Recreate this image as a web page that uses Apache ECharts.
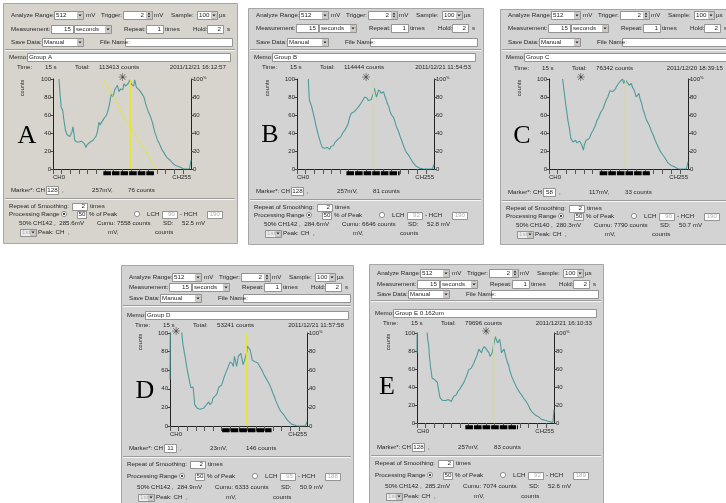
<!DOCTYPE html>
<html><head><meta charset="utf-8">
<script src="https://cdn.jsdelivr.net/npm/echarts@6/dist/echarts.min.js"></script>
<style>html,body{margin:0;padding:0;background:#fff}#c{width:726px;height:503px}</style>
</head><body><div id="c"></div><script>
// ---------------- data ----------------
const panelLetters = ['A','B','C','D','E'];
const memos = ['Group A','Group B','Group C','Group D','Group E 0.162um'];
const totals = [113413,114444,76342,53241,79696];
const dates = ['2011/12/21 16:12:57','2011/12/21 11:54:53','2011/12/20 18:39:15','2011/12/21 11:57:58','2011/12/21 16:10:33'];
const markerCH = [128,128,58,11,128];
const markerMV = [257,257,117,23,257];
const markerCounts = [76,81,33,146,83];
const halfCH = [142,142,140,142,142];
const halfMV = ['285.6','284.6','280.3','284.9','285.2'];
const cumuCounts = [7558,6646,7790,6333,7074];
const sdMV = ['52.5','52.8','50.7','50.9','52.6'];
const lchValues = [90,92,90,95,92];
const hchValues = [190,190,190,188,189];
const rangeStart = [93,92,93,97,90];
const rangeEnd = [188,191,185,189,188];
const analyzeRange = 512, triggerMV = 2, sampleUS = 100, measureTime = 15, repeatTimes = 1, holdSec = 2, smoothing = 2, percentPeak = 50;
const yTicks = [0,20,40,60,80,100];
const xTicks = [0,16,32,48,64,80,96,112,128,144,160,176,192,208,224,240];
const chLabels = [0,255];

const curveA = [[11,100],[13,84],[15,69],[18,65],[20,55],[23,43],[26,38],[28,37],[31,36],[33,36],[35,41],[37,47],[39,38],[40,32],[44,30],[49,30],[53,31],[56,32],[58,28],[61,24],[63,27],[65,28],[69,30],[74,32],[77,34],[80,37],[83,44],[85,52],[87,49],[90,50],[94,56],[97,58],[99,60],[102,66],[104,71],[106,78],[108,84],[111,80],[114,88],[116,86],[119,93],[122,86],[125,89],[127,91],[129,88],[131,95],[134,92],[136,91],[139,95],[142,99],[145,94],[147,95],[149,92],[151,99],[154,91],[157,90],[159,88],[162,86],[164,84],[166,82],[168,80],[171,73],[173,69],[176,64],[179,60],[182,55],[184,51],[186,46],[188,41],[191,36],[193,32],[196,29],[198,26],[201,22],[204,19],[207,16],[210,13],[213,11],[216,10],[219,8],[222,6],[226,4],[231,3],[235,2],[238,1],[242,0],[252,0],[255,10]];
const cumulativeA = [[93,100],[103,88],[114,78],[127,62],[142,47],[160,30],[176,15],[188,0]];
const curveB = [[21,100],[22,88],[23,77],[25,73],[27,70],[29,68],[31,60],[33,55],[35,49],[37,44],[40,37],[42,33],[44,29],[47,24],[49,24],[51,23],[53,25],[56,24],[58,23],[61,22],[63,25],[66,27],[68,26],[70,29],[73,30],[76,33],[79,34],[82,36],[85,40],[87,42],[90,44],[92,45],[95,50],[97,55],[99,59],[101,62],[104,62],[107,64],[110,65],[113,68],[116,69],[118,72],[120,73],[123,77],[126,80],[128,78],[130,79],[133,76],[135,75],[138,77],[140,77],[142,84],[144,90],[146,84],[148,80],[150,84],[152,88],[155,86],[157,84],[159,86],[161,86],[163,82],[166,77],[168,73],[171,69],[173,64],[176,60],[178,58],[180,57],[183,51],[185,47],[188,43],[190,40],[192,36],[194,33],[197,28],[200,23],[203,19],[207,16],[210,13],[213,10],[216,7],[219,5],[222,3],[225,2],[228,1],[231,1],[235,0],[252,0],[255,5]];
const curveC = [[25,100],[27,90],[29,80],[31,70],[32,66],[34,57],[35,53],[37,47],[38,43],[40,34],[42,33],[44,30],[46,31],[49,32],[51,29],[54,29],[56,31],[58,32],[60,27],[63,21],[65,27],[68,32],[71,31],[74,34],[76,36],[78,40],[81,43],[84,47],[86,50],[88,54],[91,57],[94,62],[97,64],[99,67],[102,72],[105,77],[108,80],[110,84],[112,87],[115,88],[117,86],[119,84],[122,89],[124,92],[127,94],[130,97],[133,98],[135,100],[137,95],[138,95],[140,99],[142,99],[144,96],[147,93],[149,94],[151,95],[153,91],[156,88],[158,84],[160,80],[163,82],[165,84],[167,78],[170,73],[172,67],[175,62],[177,58],[179,54],[182,51],[185,47],[188,42],[191,38],[194,33],[197,29],[200,25],[203,21],[206,18],[209,16],[212,13],[215,10],[218,7],[221,6],[224,4],[228,3],[231,1],[234,1],[238,0],[252,0],[255,8]];
const curveD = [[0,50],[1,160],[20,110],[22,100],[24,88],[25,86],[27,78],[28,75],[30,68],[31,64],[33,58],[34,55],[36,49],[37,46],[39,41],[40,39],[42,40],[43,42],[45,30],[46,23],[49,21],[51,19],[54,18],[56,18],[59,18],[62,19],[65,21],[68,23],[70,24],[72,26],[74,23],[76,21],[78,25],[80,30],[83,32],[87,34],[89,38],[91,42],[94,43],[96,44],[99,49],[101,53],[103,56],[105,59],[108,63],[110,66],[112,69],[115,71],[116,67],[118,64],[120,75],[122,70],[124,64],[126,70],[127,75],[130,77],[132,78],[134,72],[136,66],[138,69],[141,71],[143,80],[144,86],[146,84],[149,82],[151,77],[153,71],[155,70],[158,69],[161,68],[163,68],[166,65],[169,62],[172,59],[175,55],[178,52],[181,50],[184,46],[188,41],[191,36],[194,32],[197,27],[200,23],[203,19],[206,16],[209,14],[212,12],[215,9],[219,6],[222,4],[226,2],[229,1],[232,1],[236,0],[252,0],[255,5]];
const curveE = [[0,78],[1,150],[17,110],[19,100],[20,93],[22,85],[23,75],[25,63],[27,55],[28,50],[30,49],[33,48],[35,50],[36,50],[38,45],[39,41],[41,34],[42,30],[44,27],[45,26],[48,25],[51,24],[54,25],[56,27],[58,26],[61,25],[64,24],[66,27],[69,30],[71,30],[73,31],[76,35],[78,37],[80,38],[83,41],[85,43],[88,46],[90,49],[92,52],[94,55],[96,59],[99,60],[101,61],[103,63],[106,67],[108,70],[111,74],[113,78],[115,82],[117,80],[120,78],[122,82],[125,85],[127,83],[129,82],[131,80],[134,78],[136,74],[138,72],[140,78],[142,85],[144,90],[146,96],[148,92],[150,89],[152,90],[154,93],[156,85],[157,78],[160,80],[162,82],[164,77],[166,72],[168,68],[171,63],[173,58],[176,52],[179,48],[182,44],[185,40],[188,37],[191,34],[195,31],[198,28],[201,26],[204,23],[207,20],[210,16],[213,13],[216,11],[220,9],[223,8],[226,7],[229,5],[232,4],[235,3],[238,3],[241,2],[244,2],[249,1],[253,1],[255,15]];
const curves = [curveA, curveB, curveC, curveD, curveE];

// ---------------- layout (positions / styles) ----------------
const layout = [
  {tl:11,  top:3,   bottom:243, right:237, rows:[15,29,42,49,57,67,190,198,206,214,223,232], grid:[53,79,138,90],  bg:'#d7d4cd', letter:[27,136]},
  {tl:256, top:8,   bottom:244, right:483, rows:[15,28,42,49,57,67,191,199,207,215,224,233], grid:[297,79,137,90], bg:'#d3d3d3', letter:[270,135]},
  {tl:508, top:9,   bottom:244, right:740, rows:[15,28,42,49,57,68,192,200,208,216,225,234], grid:[549,79,139,90], bg:'#d3d3d3', letter:[522,136]},
  {tl:129, top:265, bottom:512, right:353, rows:[277,287,298,305,315,325,448,456,464,476,487,497], grid:[170,333,137,93], bg:'#d3d3d3', letter:[145,391]},
  {tl:377, top:264, bottom:512, right:603, rows:[273,284,294,300,313,323,447,455,463,475,486,496], grid:[417,333,137,90], bg:'#d3d3d3', letter:[387,387]}
];
const FONT = '"Liberation Sans", Arial, sans-serif';
const TEAL = '#4f9b9b', YEL = '#e4e436', BAR_Y = -4.6, STAR_Y = 101;

const G = [];
function T(x,y,s,o){o=o||{};G.push({type:'text',x:x,y:y,z:20,silent:true,rotation:o.rot||0,
  style:{text:String(s),font:(o.size||6.2)+'px '+(o.family||FONT),fill:o.color||'#262626',textAlign:o.align||'left',textVerticalAlign:'middle'}});}
function R(x,y,w,h,fill,stroke,z,lw){G.push({type:'rect',z:z==null?-8:z,silent:true,shape:{x:x,y:y,width:w,height:h},
  style:{fill:fill||'none',stroke:stroke||null,lineWidth:lw||(stroke?1:0)}});}
function Lh(x1,x2,y,c){G.push({type:'line',z:-6,silent:true,shape:{x1:x1,y1:y,x2:x2,y2:y},style:{stroke:c,lineWidth:1}});}
function sep(x1,x2,y){Lh(x1,x2,y+.5,'#9c9c9c');Lh(x1,x2,y+1.5,'#f6f6f6');}
function box(x1,x2,yc,s,o){o=o||{};const h=o.h||8;const pr=o.pr||0;
  R(x1+.5,Math.round(yc-h/2)+.5,x2-x1,h,o.fill||'#fff','#7d7d7d',-6,0.8);
  if(s!=null&&s!=='') T(o.align==='right'?x2-2-pr:o.align==='center'?(x1+x2)/2+.5:x1+2,yc+.5,s,{align:o.align||'left',color:o.color});}
function arrowBtn(x2,yc,h){R(x2-5.5,Math.round(yc-h/2)+1.5,5,h-2,'#d4d0c8','#a0a0a0',-5,0.5);
  G.push({type:'polygon',z:-4,silent:true,shape:{points:[[x2-4.6,yc-0.6],[x2-1.4,yc-0.6],[x2-3,yc+1.4]]},style:{fill:'#222'}});}
function combo(x1,x2,yc,s,o){o=o||{};box(x1,x2,yc,s,{h:o.h,color:o.color,fill:o.fill});arrowBtn(x2,yc,o.h||8);}
function spinner(x2,yc){R(x2-5.5,yc-3.5,5,7,'#d4d0c8','#a0a0a0',-5,0.5);
  G.push({type:'polygon',z:-4,silent:true,shape:{points:[[x2-4.4,yc-0.6],[x2-1.6,yc-0.6],[x2-3,yc-2.4]]},style:{fill:'#222'}});
  G.push({type:'polygon',z:-4,silent:true,shape:{points:[[x2-4.4,yc+0.8],[x2-1.6,yc+0.8],[x2-3,yc+2.6]]},style:{fill:'#222'}});}
function radio(cx,cy,on){G.push({type:'circle',z:-4,silent:true,shape:{cx:cx,cy:cy,r:2.6},style:{fill:'#fff',stroke:'#777',lineWidth:0.8}});
  if(on) G.push({type:'circle',z:-3,silent:true,shape:{cx:cx,cy:cy,r:1.1},style:{fill:'#111'}});}

function panel(i){
  const L=layout[i], t=L.tl, r=L.rows, left=t-8;
  R(left+.5,L.top+.5,L.right-left,L.bottom-L.top,L.bg,'#a6a6a6',-10,1);
  T(t,r[0],'Analyze Range:');
  combo(t+43,t+72,r[0],analyzeRange);
  T(t+75,r[0],'mV');
  T(t+90,r[0],'Trigger:');
  box(t+112,t+141,r[0],triggerMV,{align:'right',pr:6}); spinner(t+141,r[0]);
  T(t+143,r[0],'mV');
  T(t+160,r[0],'Sample:');
  combo(t+186,t+206,r[0],sampleUS);
  T(t+208,r[0],'\u00b5s');
  T(t,r[1],'Measurement:');
  box(t+40,t+62,r[1],measureTime,{align:'right'});
  combo(t+63,t+100,r[1],'seconds');
  T(t+113,r[1],'Repeat:');
  box(t+135,t+152,r[1],repeatTimes,{align:'right'});
  T(t+154,r[1],'times');
  T(t+182,r[1],'Hold:');
  box(t+196,t+212,r[1],holdSec,{align:'right'});
  T(t+216,r[1],'s');
  T(t,r[2],'Save Data:');
  combo(t+31,t+72,r[2],'Manual');
  T(t+89,r[2],'File Name:');
  box(t+114,t+221,r[2],'');
  sep(left+2,L.right-2,r[3]);
  T(t-2,r[4],'Memo:');
  box(t+16,t+219,r[4],memos[i]);
  T(t+6,r[5],'Time:'); T(t+34,r[5],measureTime+' s'); T(t+64,r[5],'Total:');
  T(t+88,r[5],totals[i]+' counts'); T(t+215,r[5],dates[i],{align:'right'});
  const g=L.grid;
  T(t+11,g[1]+9,'counts',{rot:Math.PI/2,align:'center',size:5.6});
  T(L.letter[0],L.letter[1],panelLetters[i],{size:26,family:'"Liberation Serif","Times New Roman",serif',color:'#000',align:'center'});
  T(t+34,r[6],'Marker*: CH',{align:'right'});
  box(t+35,t+47,r[6],markerCH[i],{align:'center'});
  T(t+51,r[6],',');
  T(t+81,r[6],markerMV[i]+'mV,');
  T(t+117,r[6],markerCounts[i]+' counts');
  sep(left+2,L.right-2,r[7]);
  T(t-2,r[8],'Repeat of Smoothing:');
  box(t+61,t+76,r[8],smoothing,{align:'right',h:7});
  T(t+79,r[8],'times');
  T(t-2,r[9],'Processing Range');
  radio(t+53,r[9],true);
  box(t+66,t+75,r[9],percentPeak,{align:'center',h:7});
  T(t+78,r[9],'% of Peak');
  radio(t+126,r[9],false);
  T(t+136,r[9],'LCH');
  box(t+151,t+166,r[9],lchValues[i],{align:'right',h:7,color:'#b0b0b0'});
  T(t+169,r[9],'- HCH');
  box(t+196,t+211,r[9],hchValues[i],{align:'right',h:7,color:'#b0b0b0'});
  T(t+8,r[10],'50% CH'+halfCH[i]+' ,  '+halfMV[i]+'mV');
  T(t+86,r[10],'Cumu:');
  T(t+106,r[10],cumuCounts[i]+' counts');
  T(t+152,r[10],'SD:');
  T(t+171,r[10],sdMV[i]+' mV');
  combo(t+9,t+25,r[11],'1st',{h:7,color:'#b0b0b0',fill:'#ececec'});
  T(t+27,r[11],'Peak: CH');
  T(t+57,r[11],',');
  T(t+97,r[11],'mV,');
  T(t+144,r[11],'counts');
}
for(let i=0;i<5;i++) panel(i);

const option={animation:false,backgroundColor:'#fff',graphic:{elements:G},grid:[],xAxis:[],yAxis:[],series:[]};
const axLabel={fontSize:6,color:'#262626',fontFamily:FONT};
for(let i=0;i<5;i++){
  const g=layout[i].grid;
  option.grid.push({left:g[0],top:g[1],width:g[2],height:g[3],containLabel:false,show:false});
  option.xAxis.push({gridIndex:i,type:'value',min:0,max:255,
    axisLine:{show:true,onZero:false,lineStyle:{color:'#222',width:1}},
    axisTick:{show:true,customValues:xTicks,length:5,lineStyle:{color:'#555'}},
    axisLabel:Object.assign({show:true,customValues:chLabels,margin:5,formatter:v=>'CH'+v,alignMinLabel:'left',alignMaxLabel:'right',showMinLabel:true,showMaxLabel:true},axLabel),
    splitLine:{show:false}});
  option.yAxis.push({gridIndex:i,type:'value',min:0,max:100,interval:20,position:'left',
    axisLine:{show:true,lineStyle:{color:'#222'}},axisTick:{show:true,length:2.5,lineStyle:{color:'#444'}},
    axisLabel:Object.assign({margin:2},axLabel),splitLine:{show:false}});
  option.yAxis.push({gridIndex:i,type:'value',min:0,max:100,interval:20,position:'right',
    axisLine:{show:true,lineStyle:{color:'#222'}},axisTick:{show:true,length:2.5,lineStyle:{color:'#444'}},
    axisLabel:Object.assign({margin:2,formatter:v=>v===100?'100{p|%}':String(v),rich:{p:{fontSize:4,verticalAlign:'top',color:'#262626'}}},axLabel),splitLine:{show:false}});
  option.series.push({type:'line',xAxisIndex:i,yAxisIndex:2*i,data:curves[i],showSymbol:false,symbol:'none',clip:true,z:3,
    lineStyle:{color:TEAL,width:1.1},
    markLine:{silent:true,symbol:['none','none'],label:{show:false},lineStyle:{color:YEL,width:1.2,type:'solid'},data:[{xAxis:halfCH[i]}]}});
  option.series.push({type:'line',xAxisIndex:i,yAxisIndex:2*i,data:[[rangeStart[i],BAR_Y],[rangeEnd[i],BAR_Y]],showSymbol:false,symbol:'none',clip:false,z:4,
    lineStyle:{color:'#000',width:4,type:[7.6,1]}});
  option.series.push({type:'scatter',xAxisIndex:i,yAxisIndex:2*i,data:[[markerCH[i],STAR_Y]],symbol:'circle',symbolSize:1,clip:false,z:5,
    itemStyle:{color:'rgba(0,0,0,0)'},label:{show:true,position:'inside',formatter:'\u2733',fontSize:11,color:'#1a1a1a',fontFamily:'"DejaVu Sans"'}});
}
option.series.push({type:'line',xAxisIndex:0,yAxisIndex:1,data:cumulativeA,showSymbol:false,symbol:'none',smooth:true,z:3,lineStyle:{color:YEL,width:1}});

const chart=echarts.init(document.getElementById('c'),null,{renderer:'canvas'});
chart.setOption(option);
</script></body></html>
